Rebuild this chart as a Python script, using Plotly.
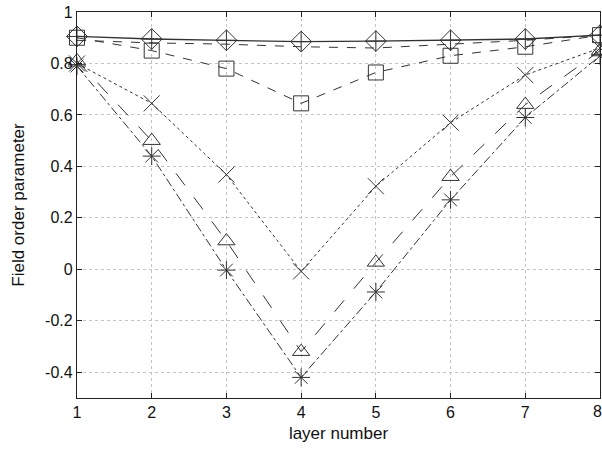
import plotly.graph_objects as go

layers = [1, 2, 3, 4, 5, 6, 7, 8]

# field order parameter per layer for each run
diamond_vals = [0.905, 0.895, 0.89, 0.885, 0.887, 0.89, 0.895, 0.91]
upper_dash_vals = [0.89, 0.88, 0.875, 0.865, 0.86, 0.875, 0.89, 0.91]
square_vals = [0.90, 0.85, 0.78, 0.645, 0.765, 0.83, 0.865, 0.91]
cross_vals = [0.80, 0.645, 0.368, -0.008, 0.323, 0.57, 0.755, 0.86]
triangle_vals = [0.81, 0.50, 0.11, -0.32, 0.027, 0.36, 0.64, 0.85]
star_vals = [0.79, 0.44, -0.003, -0.42, -0.088, 0.27, 0.59, 0.83]

y_ticks = [-0.4, -0.2, 0, 0.2, 0.4, 0.6, 0.8, 1]
y_tick_text = ["-0.4", "-0.2", "0", "0.2", "0.4", "0.6", "0.8", "1"]

FONT = "Liberation Sans, Arial, sans-serif"
ink = "#333333"
fig = go.Figure()

def add(vals, dash, symbol, size, width=1.0):
    fig.add_trace(go.Scatter(
        x=layers, y=vals, mode="lines+markers" if symbol else "lines",
        line=dict(color=ink, width=width, dash=dash),
        marker=dict(symbol=symbol or "circle", size=size,
                    color=ink, line=dict(color=ink, width=1)),
        showlegend=False, cliponaxis=False))

add(upper_dash_vals, "dash", None, 0)
add(diamond_vals, "solid", "diamond-cross-open", 16, 1.3)
add(square_vals, "dash", "square-open", 15)
add(cross_vals, "dot", "x-thin-open", 16)
add(triangle_vals, "longdash", "triangle-up-open", 15)
add(star_vals, "dashdot", "asterisk-open", 15)

axis_common = dict(
    showline=True, linecolor="#222", linewidth=1.2, mirror="ticks",
    ticks="inside", ticklen=5, tickcolor="#222",
    showgrid=True, gridcolor="#c4c4c4", griddash="dot", gridwidth=1,
    zeroline=False,
    tickfont=dict(family=FONT, size=16, color="#111"),
)

fig.update_layout(
    width=602, height=450,
    margin=dict(l=77, r=2, t=12, b=52),
    plot_bgcolor="white", paper_bgcolor="white",
    xaxis=dict(range=[1, 8], tickvals=layers, **axis_common,
               title=dict(text="layer number", standoff=6,
                          font=dict(family=FONT, size=17, color="#111"))),
    yaxis=dict(range=[-0.5, 1], tickvals=y_ticks, ticktext=y_tick_text,
               **axis_common,
               title=dict(text="Field order parameter", standoff=16,
                          font=dict(family=FONT, size=17, color="#111"))),
)

# the last x label sits on the page edge, so it is drawn as an unclipped annotation
fig.add_annotation(x=layers[-1], y=0, xref="x", yref="paper", yanchor="top",
                   yshift=-3, xshift=-3, text=str(layers[-1]), showarrow=False,
                   font=dict(family=FONT, size=16, color="#111"))

fig.write_html("out.html")
